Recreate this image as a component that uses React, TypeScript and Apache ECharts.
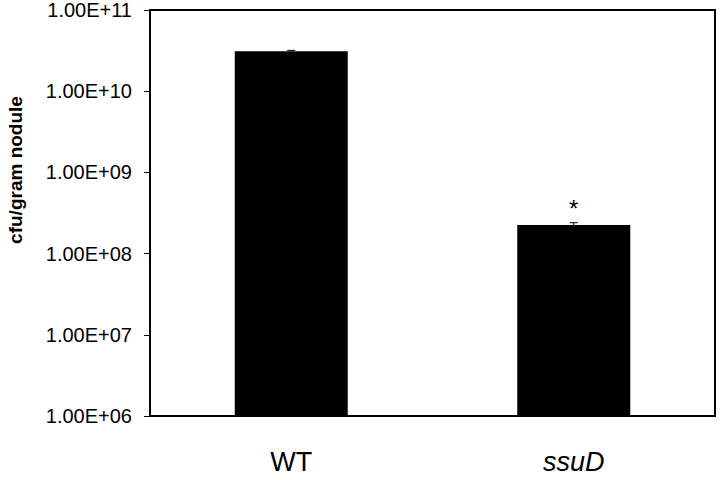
import React, { useEffect, useRef } from "react";
import * as echarts from "echarts";

const categories = ["WT", "ssuD"];
const meanValues = [3.1e10, 2.25e8];
const errorValues = [0.08e10, 0.15e8];
const significance = ["", "*"];
const yTicks = [1e6, 1e7, 1e8, 1e9, 1e10, 1e11];

function fmt(v: number): string {
  const exp = Math.round(Math.log10(v));
  const mant = v / Math.pow(10, exp);
  const e = String(Math.abs(exp)).padStart(2, "0");
  return mant.toFixed(2) + "E" + (exp < 0 ? "-" : "+") + e;
}

export default function App() {
  const ref = useRef<HTMLDivElement>(null);
  useEffect(() => {
    if (!ref.current) return;
    const chart = echarts.init(ref.current, null, { renderer: "svg" });
    const font = "Liberation Sans, Arial, sans-serif";
    chart.setOption({
      animation: false,
      backgroundColor: "#ffffff",
      grid: {
        left: 150,
        right: 5,
        top: 10,
        bottom: 64,
        show: true,
        borderColor: "#000000",
        borderWidth: 2,
      },
      xAxis: {
        type: "category",
        data: categories,
        axisLine: { lineStyle: { color: "#000000", width: 2 } },
        axisTick: { show: false },
        axisLabel: {
          margin: 32,
          fontFamily: font,
          fontSize: 27,
          color: "#000000",
          formatter: (v: string) => (v === "WT" ? v : "{i|" + v + "}"),
          rich: { i: { fontStyle: "italic", fontFamily: font, fontSize: 27, color: "#000000" } },
        },
      },
      yAxis: {
        type: "log",
        logBase: 10,
        min: yTicks[0],
        max: yTicks[yTicks.length - 1],
        splitLine: { show: false },
        axisLine: { show: true, lineStyle: { color: "#000000", width: 2 } },
        axisTick: { show: true, length: 6, lineStyle: { color: "#000000", width: 1 } },
        axisLabel: {
          margin: 18,
          fontFamily: font,
          fontSize: 20,
          color: "#000000",
          formatter: (v: number) => fmt(v),
        },
      },
      graphic: [
        {
          type: "text",
          x: 15,
          y: 170,
          rotation: Math.PI / 2,
          style: {
            text: "cfu/gram nodule",
            fontFamily: font,
            fontWeight: "bold",
            fontSize: 19,
            fill: "#000000",
            align: "center",
            verticalAlign: "middle",
          },
        },
      ],
      series: [
        {
          type: "bar",
          data: meanValues,
          barWidth: "40%",
          itemStyle: { color: "#000000" },
        },
        {
          type: "custom",
          data: categories.map((c, i) => [i, meanValues[i], errorValues[i]]),
          renderItem: (params: any, api: any) => {
            const i = api.value(0);
            const m = api.value(1);
            const e = api.value(2);
            const base = api.coord([i, m]);
            const top = api.coord([i, m + e]);
            const half = 4;
            const children: any[] = [
              {
                type: "line",
                shape: { x1: base[0], y1: base[1], x2: top[0], y2: top[1] },
                style: { stroke: "#000000", lineWidth: 1 },
              },
              {
                type: "line",
                shape: { x1: top[0] - half, y1: top[1], x2: top[0] + half, y2: top[1] },
                style: { stroke: "#000000", lineWidth: 1 },
              },
            ];
            const s = significance[params.dataIndex];
            if (s) {
              children.push({
                type: "text",
                x: top[0],
                y: top[1] - 14,
                style: {
                  text: s,
                  fontFamily: font,
                  fontSize: 24,
                  fill: "#000000",
                  align: "center",
                  verticalAlign: "middle",
                },
              });
            }
            return { type: "group", children };
          },
          z: 5,
        },
      ],
    });
    return () => chart.dispose();
  }, []);
  return <div ref={ref} style={{ width: 720, height: 480, position: "absolute", left: 0, top: 0 }} />;
}
